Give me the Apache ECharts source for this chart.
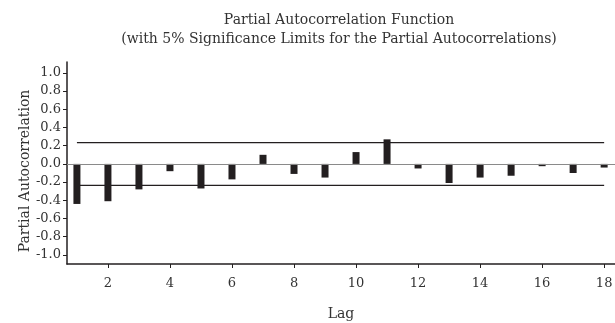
<!DOCTYPE html>
<html>
<head>
<meta charset="utf-8">
<script src="https://cdn.jsdelivr.net/npm/echarts@6/dist/echarts.min.js"></script>
<style>html,body{margin:0;padding:0;background:#fff}#c{width:615px;height:323px}</style>
</head>
<body>
<div id="c"></div>
<script>
const lags = [1,2,3,4,5,6,7,8,9,10,11,12,13,14,15,16,17,18];
const pacf = [-0.44,-0.41,-0.28,-0.08,-0.27,-0.17,0.10,-0.11,-0.15,0.13,0.27,-0.05,-0.21,-0.15,-0.13,-0.025,-0.10,-0.04];
const sigLimit = 0.235;
const xTicks = [2,4,6,8,10,12,14,16,18];
const yTicks = [-1.0,-0.8,-0.6,-0.4,-0.2,0.0,0.2,0.4,0.6,0.8,1.0];

const font = "'DejaVu Serif', serif";
const ink = '#231f20';
const chart = echarts.init(document.getElementById('c'));
chart.setOption({
  animation: false,
  title: {
    text: 'Partial Autocorrelation Function\n(with 5% Significance Limits for the Partial Autocorrelations)',
    left: 334, top: 6, textAlign: 'center',
    textStyle: {fontFamily: font, fontSize: 14, fontWeight: 'normal', color: '#333', lineHeight: 19}
  },
  grid: {left: 67, right: 0, top: 62, bottom: 59, outerBoundsMode: 'none', containLabel: false},
  xAxis: {
    type: 'value', min: 0.68, max: 18.35,
    name: 'Lag', nameLocation: 'middle', nameGap: 43, nameMoveOverlap: false,
    nameTextStyle: {fontFamily: font, fontSize: 14, color: '#333'},
    axisLine: {onZero: false, lineStyle: {color: ink, width: 1.5}},
    axisTick: {show: true, length: 4, customValues: xTicks, lineStyle: {color: ink}},
    axisLabel: {customValues: xTicks, margin: 13, fontFamily: font, fontSize: 13, color: '#333'},
    splitLine: {show: false}
  },
  yAxis: {
    type: 'value', min: -1.1, max: 1.12,
    name: 'Partial Autocorrelation', nameLocation: 'middle', nameGap: 35, nameRotate: 90,
    nameMoveOverlap: false,
    nameTextStyle: {fontFamily: font, fontSize: 14, color: '#333', padding: [0, 16, 0, 0]},
    axisLine: {show: true, onZero: false, lineStyle: {color: ink, width: 1.5}},
    axisTick: {show: true, length: 4, customValues: yTicks, lineStyle: {color: ink}},
    axisLabel: {customValues: yTicks, margin: 6, fontFamily: font, fontSize: 13, color: '#333',
      formatter: v => v.toFixed(1)},
    splitLine: {show: false}
  },
  series: [
    {
      type: 'bar', barWidth: 7,
      data: lags.map((l, i) => [l, pacf[i]]),
      itemStyle: {color: ink},
      markLine: {
        silent: true, symbol: 'none', label: {show: false},
        lineStyle: {color: '#8a8a8a', width: 1.2, type: 'solid'},
        data: [{yAxis: 0}]
      },
      z: 3
    },
    {
      type: 'line', symbol: 'none', lineStyle: {color: ink, width: 1.2},
      data: [[lags[0], sigLimit], [lags[lags.length - 1], sigLimit]], z: 2
    },
    {
      type: 'line', symbol: 'none', lineStyle: {color: ink, width: 1.2},
      data: [[lags[0], -sigLimit], [lags[lags.length - 1], -sigLimit]], z: 2
    }
  ]
});
</script>
</body>
</html>
